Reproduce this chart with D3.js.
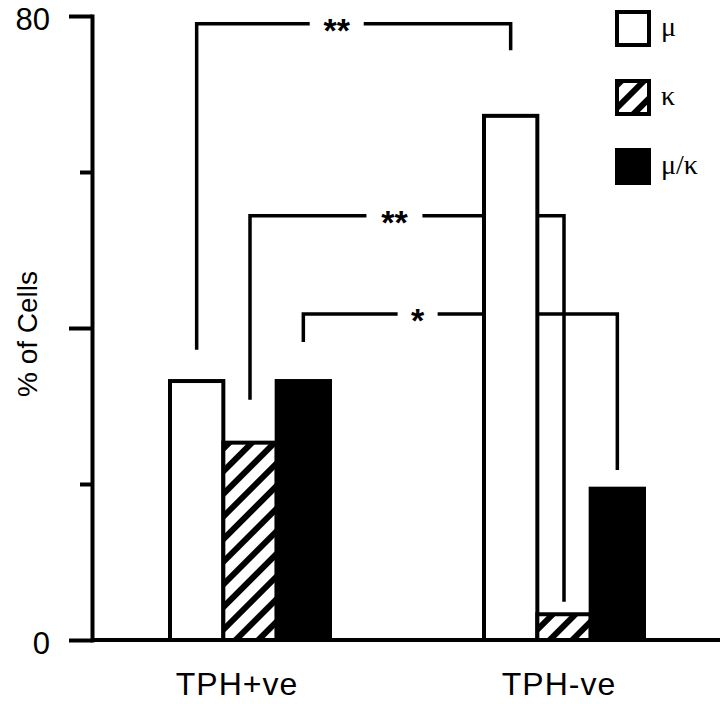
<!DOCTYPE html>
<html>
<head>
<meta charset="utf-8">
<script src="https://cdn.jsdelivr.net/npm/d3@7"></script>
<style>
  body { margin: 0; background: #fff; }
</style>
</head>
<body>
<script>
// ** Data (% of cells)
var groups = ['TPH+ve', 'TPH-ve'];
var series = ['mu', 'kappa', 'muKappa'];
var seriesLabels = ['\u03bc', '\u03ba', '\u03bc/\u03ba'];
var muValues = [33.2, 67.2];
var kappaValues = [25.3, 3.3];
var muKappaValues = [33.2, 19.4];
var yTicks = [0, 20, 40, 60, 80];
var yTickLabels = ['0', '', '', '', '80'];

// ** Significance brackets (same series, TPH+ve vs TPH-ve)
var bracketSeries = ['mu', 'kappa', 'muKappa'];
var bracketTop = [79.0, 54.4, 41.8];
var bracketLeftEnd = [37.2, 30.8, 38.2];
var bracketRightEnd = [75.6, 4.9, 21.8];
var bracketStars = ['**', '**', '*'];

// ** layout only
var starAt = [0.446, 0.46, 0.364];
var starGap = [27, 28, 20];
var groupLabelShift = [-13, -5];

var values = { mu: muValues, kappa: kappaValues, muKappa: muKappaValues };
var fills = { mu: '#fff', kappa: 'url(#hatch)', muKappa: '#000' };

var width = 720, height = 704;
var svg = d3.select('body').append('svg')
    .attr('width', width)
    .attr('height', height);

var defs = svg.append('defs');
var hatch = defs.append('pattern')
    .attr('id', 'hatch')
    .attr('patternUnits', 'userSpaceOnUse')
    .attr('width', 16)
    .attr('height', 16)
    .attr('patternTransform', 'rotate(45)');
hatch.append('rect').attr('width', 16).attr('height', 16).attr('fill', '#fff');
hatch.append('rect').attr('width', 6).attr('height', 16).attr('fill', '#000');

var y = d3.scaleLinear().domain([0, 80]).range([640, 16]);
var x0 = d3.scaleBand().domain(groups).range([170, 644]).paddingInner(154 / 314).paddingOuter(0);
var x1 = d3.scaleBand().domain(series).range([0, x0.bandwidth()]);

function barCenter(g, s) {
  return x0(g) + x1(s) + x1.bandwidth() / 2;
}

// ** Brackets go under the bars
var brackets = svg.append('g')
    .attr('fill', 'none')
    .attr('stroke', '#000')
    .attr('stroke-width', 3.5);

bracketSeries.forEach(function(s, i) {
  var xl = barCenter(groups[0], s);
  var xr = barCenter(groups[1], s);
  var yt = y(bracketTop[i]);
  var xs = xl + starAt[i] * (xr - xl);
  brackets.append('path')
      .attr('d', 'M' + xl + ',' + y(bracketLeftEnd[i]) + 'V' + yt + 'H' + (xs - starGap[i]));
  brackets.append('path')
      .attr('d', 'M' + (xs + starGap[i]) + ',' + yt + 'H' + xr + 'V' + y(bracketRightEnd[i]));
  svg.append('text')
      .attr('x', xs)
      .attr('y', yt + 18)
      .attr('text-anchor', 'middle')
      .style('font', 'bold 34px "Liberation Sans", Arial, sans-serif')
      .text(bracketStars[i]);
});

// ** Bars
var group = svg.selectAll('.group')
    .data(groups)
    .enter().append('g')
    .attr('class', 'group')
    .attr('transform', function(g) { return 'translate(' + x0(g) + ',0)'; });

group.selectAll('rect')
    .data(function(g, gi) {
      return series.map(function(s) { return { s: s, v: values[s][gi] }; });
    })
    .enter().append('rect')
    .attr('x', function(d) { return x1(d.s); })
    .attr('width', x1.bandwidth())
    .attr('y', function(d) { return y(d.v); })
    .attr('height', function(d) { return y(0) - y(d.v); })
    .attr('fill', function(d) { return fills[d.s]; })
    .attr('stroke', '#000')
    .attr('stroke-width', 4);

// ** Baseline
svg.append('line')
    .attr('x1', 92).attr('x2', width)
    .attr('y1', y(0)).attr('y2', y(0))
    .attr('stroke', '#000')
    .attr('stroke-width', 4);

// ** Y axis
var yAxis = d3.axisLeft(y)
    .tickValues(yTicks)
    .tickFormat(function(d, i) { return yTickLabels[i]; })
    .tickSizeOuter(0);

var gy = svg.append('g')
    .attr('transform', 'translate(92,0)')
    .call(yAxis);
gy.select('.domain')
    .attr('stroke', '#000')
    .attr('stroke-width', 4)
    .attr('stroke-linecap', 'square');
gy.selectAll('.tick line')
    .attr('stroke', '#000')
    .attr('stroke-width', 4)
    .attr('x2', function(d) { return d % 40 === 0 ? -23 : -12; });
gy.selectAll('.tick text')
    .attr('x', -42)
    .attr('dy', '0.45em')
    .attr('fill', '#000')
    .style('font', '31px "Liberation Sans", Arial, sans-serif');

svg.append('text')
    .attr('transform', 'translate(37,334) rotate(-90)')
    .attr('text-anchor', 'middle')
    .style('font', '28px "Liberation Sans", Arial, sans-serif')
    .text('% of Cells');

// ** X axis labels
var xAxis = d3.axisBottom(x0).tickSize(0);
var gx = svg.append('g')
    .attr('transform', 'translate(0,' + y(0) + ')')
    .call(xAxis);
gx.select('.domain').remove();
gx.selectAll('.tick text')
    .attr('y', 55)
    .attr('dy', null)
    .attr('x', function(d, i) { return groupLabelShift[i]; })
    .attr('fill', '#000')
    .style('font', '32px "Liberation Sans", Arial, sans-serif')
    .style('letter-spacing', '1px');

// ** Legend
var legend = svg.selectAll('.legend')
    .data(series)
    .enter().append('g')
    .attr('class', 'legend')
    .attr('transform', function(d, i) { return 'translate(617,' + (12 + i * 69) + ')'; });

legend.append('rect')
    .attr('width', 32)
    .attr('height', 33)
    .attr('fill', function(d) { return fills[d]; })
    .attr('stroke', '#000')
    .attr('stroke-width', 4);

legend.append('text')
    .attr('x', 44)
    .attr('y', 24)
    .style('font', '28px "Liberation Serif", "DejaVu Serif", serif')
    .text(function(d, i) { return seriesLabels[i]; });
</script>
</body>
</html>
